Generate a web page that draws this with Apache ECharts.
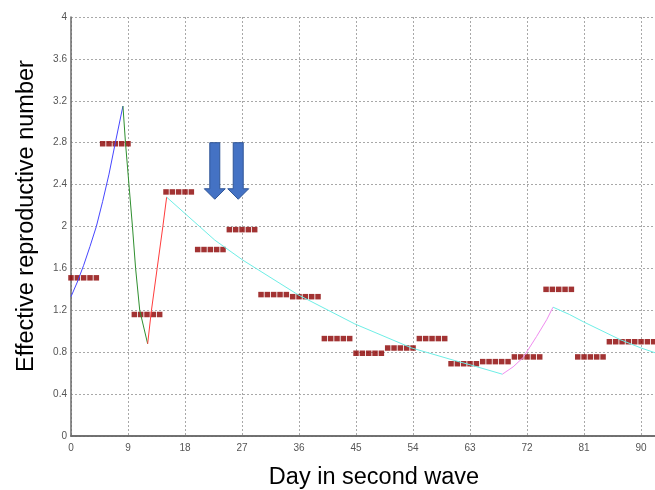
<!DOCTYPE html>
<html>
<head>
<meta charset="utf-8">
<script src="https://cdn.jsdelivr.net/npm/echarts@6/dist/echarts.min.js"></script>
<style>html,body{margin:0;padding:0;background:#fff}#c{width:655px;height:490px}</style>
</head>
<body>
<div id="c"></div>
<script>
// ---- data ----
var xTicks = [0, 9, 18, 27, 36, 45, 54, 63, 72, 81, 90];
var yTicks = [0, 0.4, 0.8, 1.2, 1.6, 2, 2.4, 2.8, 3.2, 3.6, 4];

// daily estimates (one square per day, days 0..92)
var markerDays = [
  0,1,2,3,4, 5,6,7,8,9, 10,11,12,13,14, 15,16,17,18,19,
  20,21,22,23,24, 25,26,27,28,29, 30,31,32,33,34, 35,36,37,38,39,
  40,41,42,43,44, 45,46,47,48,49, 50,51,52,53,54, 55,56,57,58,59,
  60,61,62,63,64, 65,66,67,68,69, 70,71,72,73,74, 75,76,77,78,79,
  80,81,82,83,84, 85,86,87,88,89,90,91,92
];
var markerValues = [
  1.51,1.51,1.51,1.51,1.51, 2.79,2.79,2.79,2.79,2.79, 1.16,1.16,1.16,1.16,1.16, 2.33,2.33,2.33,2.33,2.33,
  1.78,1.78,1.78,1.78,1.78, 1.97,1.97,1.97,1.97,1.97, 1.35,1.35,1.35,1.35,1.35, 1.33,1.33,1.33,1.33,1.33,
  0.93,0.93,0.93,0.93,0.93, 0.79,0.79,0.79,0.79,0.79, 0.84,0.84,0.84,0.84,0.84, 0.93,0.93,0.93,0.93,0.93,
  0.69,0.69,0.69,0.69,0.69, 0.71,0.71,0.71,0.71,0.71, 0.755,0.755,0.755,0.755,0.755, 1.40,1.40,1.40,1.40,1.40,
  0.755,0.755,0.755,0.755,0.755, 0.90,0.90,0.90,0.90,0.90,0.90,0.90,0.90
];

// model curves (points read along each segment)
var blueCurve  = [[0,1.33],[1,1.47],[2,1.63],[3,1.81],[4,2.0],[5,2.24],[6,2.5],[7,2.8],[8.2,3.15]];
var greenCurve = [[8.2,3.15],[8.6,2.8],[9.15,2.4],[9.7,2.0],[10.2,1.6],[10.85,1.2],[12.1,0.88]];
var redCurve   = [[12.1,0.88],[12.7,1.2],[13.6,1.6],[14.5,2.0],[15.1,2.28]];
var cyanCurve  = [[15.1,2.28],[20.3,2.0],[22.7,1.87],[27.1,1.68],[35.8,1.35],[44.8,1.07],[53.8,0.84],[60.6,0.72],[63,0.68],[68.1,0.59]];
var pinkCurve  = [[68.1,0.59],[69.8,0.66],[71.4,0.75],[73.5,0.95],[75.1,1.11],[76.1,1.23]];
var cyanCurve2 = [[76.1,1.23],[78.7,1.16],[80.9,1.09],[86.7,0.92],[90,0.84],[92.2,0.795]];

// arrows: [day, top value, tip value]
var arrows = [[22.7, 2.80, 2.26], [26.4, 2.80, 2.26]];

// ---- chart ----
var chart = echarts.init(document.getElementById('c'), null, {renderer: 'canvas'});
var gridLine = {show: true, lineStyle: {color: '#a8a8a8', type: [2, 2], width: 1}};
var labelStyle = {color: '#555', fontFamily: 'Liberation Sans, Arial, sans-serif', fontSize: 10};

function lineSeries(data, color) {
  return {
    type: 'line', data: data, showSymbol: false, symbol: 'none',
    smooth: false,
    lineStyle: {color: color, width: 1}, z: 5, silent: true, animation: false
  };
}

var option = {
  animation: false,
  backgroundColor: '#fff',
  grid: {left: 71, right: 0, top: 17, bottom: 54, containLabel: false},
  xAxis: [{
    type: 'value', min: 0, max: 92.2, interval: 9,
    axisLine: {show: true, onZero: false, lineStyle: {color: '#6a6a6a', width: 1.5}},
    axisTick: {show: false},
    axisLabel: Object.assign({margin: 7, showMaxLabel: false}, labelStyle),
    splitLine: gridLine
  }, {
    type: 'value', position: 'top', min: 0, max: 92.2,
    axisLine: {show: true, lineStyle: {color: '#6a6a6a', width: 1.5}},
    axisTick: {show: false}, axisLabel: {show: false}, splitLine: {show: false}
  }],
  yAxis: {
    type: 'value', min: 0, max: 4, interval: 0.4,
    axisLine: {show: true, lineStyle: {color: '#6a6a6a', width: 1.5}},
    axisTick: {show: false},
    axisLabel: Object.assign({margin: 4, formatter: function (v) { return String(Math.round(v * 10) / 10); }}, labelStyle),
    splitLine: gridLine
  },
  graphic: [
    {type: 'text', x: 27, y: 216, rotation: Math.PI / 2,
     style: {text: 'Effective reproductive number', fill: '#000', font: '23.5px "Liberation Sans", Arial, sans-serif',
             align: 'center', verticalAlign: 'middle'}},
    {type: 'text', x: 374, y: 478,
     style: {text: 'Day in second wave', fill: '#000', font: '23.5px "Liberation Sans", Arial, sans-serif',
             align: 'center', verticalAlign: 'middle'}}
  ],
  series: [
    {
      type: 'scatter', symbol: 'rect', symbolSize: 5.5,
      data: markerDays.map(function (d, i) { return [d, markerValues[i]]; }),
      itemStyle: {color: '#8b0000'},
      z: 3, silent: true, clip: true
    },
    lineSeries(blueCurve, '#4646ff'),
    lineSeries(greenCurve, '#2f8f2f'),
    lineSeries(redCurve, '#ff3c3c'),
    lineSeries(cyanCurve, '#6eeee6'),
    lineSeries(pinkCurve, '#f08cf0'),
    lineSeries(cyanCurve2, '#6eeee6'),
    {
      type: 'custom', data: arrows, z: 6, silent: true,
      renderItem: function (params, api) {
        var top = api.coord([api.value(0), api.value(1)]);
        var tip = api.coord([api.value(0), api.value(2)]);
        var x = top[0], sw = 5, hw = 10.5, hh = 10.5;
        return {
          type: 'polygon',
          shape: {points: [[x - sw, top[1]], [x + sw, top[1]], [x + sw, tip[1] - hh], [x + hw, tip[1] - hh],
                           [x, tip[1]], [x - hw, tip[1] - hh], [x - sw, tip[1] - hh]]},
          style: {fill: '#4472c4', stroke: '#2f5597', lineWidth: 1}
        };
      }
    }
  ]
};
chart.setOption(option);
</script>
</body>
</html>
